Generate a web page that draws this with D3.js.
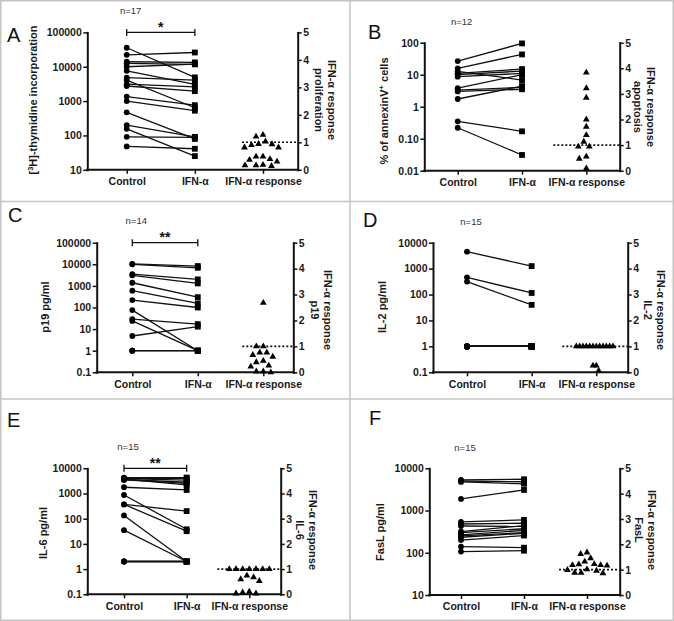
<!DOCTYPE html>
<html><head><meta charset="utf-8">
<script src="https://cdn.jsdelivr.net/npm/d3@7"></script>
<style>
html,body{margin:0;padding:0;background:#fff;}
svg{display:block;}
</style></head><body>
<svg id="chart" width="674" height="621"></svg>
<script>
// ---------------- DATA ----------------
const categories = ["Control", "IFN-α", "IFN-α response"];
const rightTicks = [0, 1, 2, 3, 4, 5];

// Panel A: [3H]-thymidine incorporation
const aTicks = [10, 100, 1000, 10000, 100000];
const aTickLabels = ["10", "100", "1000", "10000", "100000"];
const aControl = [35700, 22300, 14000, 12500, 10000, 7600, 4800, 4100, 3100, 2750, 1350, 1000, 470, 200, 156, 91, 48];
const aIFN     = [4900, 26000, 13400, 11700, 12000, 3050, 4100, 640, 2600, 1950, 760, 525, 79, 91, 25, 88, 41];
const aResp    = [1.27, 1.21, 0.94, 0.81, 0.81, 0.93, 1.03, 0.9, 0.36, 0.48, 0.48, 0.18, 0.16, 0.16, 0.30, 0.39, 0.14];

// Panel B: % of annexinV+ cells
const bTicks = [0.01, 0.1, 1, 10, 100];
const bTickLabels = ["0.01", "0.10", "1", "10", "100"];
const bControl = [26.7, 15.8, 12.7, 11, 10, 8.7, 3.8, 3.3, 3.0, 1.74, 0.35, 0.22];
const bIFN     = [95, 43, 6.8, 15, 13, 11, 10, 4.0, 3.5, 4.4, 0.17, 0.031];
const bResp    = [3.83, 3.22, 2.85, 2.0, 1.72, 1.39, 1.13, 0.94, 0.94, 0.55, 0.47, 0.09];

// Panel C: p19 pg/ml
const cTicks = [0.1, 1, 10, 100, 1000, 10000, 100000];
const cTickLabels = ["0.1", "1", "10", "100", "1000", "10000", "100000"];
const cControl = [10500, 10000, 3500, 3100, 1400, 600, 220, 76, 29, 24, 4.8, 1, 1, 1];
const cIFN     = [8300, 6900, 2000, 1300, 300, 155, 100, 1, 17, 1, 13, 1, 1, 1];
const cResp    = [2.68, 1.0, 1.0, 0.67, 0.76, 0.76, 0.60, 0.44, 0.39, 0.26, 0.22, 0.03, 0.0, 0.03];

// Panel D: IL-2 pg/ml
const dTicks = [0.1, 1, 10, 100, 1000, 10000];
const dTickLabels = ["0.1", "1", "10", "100", "1000", "10000"];
const dControl = [4500, 460, 315, 1, 1, 1, 1, 1, 1, 1, 1, 1, 1, 1, 1];
const dIFN     = [1250, 115, 40, 1, 1, 1, 1, 1, 1, 1, 1, 1, 1, 1, 1];
const dResp    = [0.26, 0.26, 0.06, 1, 1, 1, 1, 1, 1, 1, 1, 1, 1, 1, 1];

// Panel E: IL-6 pg/ml
const eTicks = [0.1, 1, 10, 100, 1000, 10000];
const eTickLabels = ["0.1", "1", "10", "100", "1000", "10000"];
const eControl = [4250, 4000, 3900, 3700, 3600, 3450, 1770, 870, 370, 370, 135, 35, 2, 2, 2];
const eIFN     = [4300, 4000, 3400, 2200, 2800, 2500, 1380, 38, 200, 32, 2, 2, 2, 2, 2];
const eResp    = [1, 1, 1, 1, 1, 1, 1, 0.74, 0.6, 0.53, 0.68, 0.07, 0.03, 0.03, 0.1];

// Panel F: FasL pg/ml
const fTicks = [10, 100, 1000, 10000];
const fTickLabels = ["10", "100", "1000", "10000"];
const fControl = [5300, 5000, 4750, 1880, 540, 480, 430, 315, 300, 264, 250, 233, 200, 140, 107];
const fIFN     = [5500, 4800, 4300, 3070, 600, 500, 420, 440, 370, 340, 300, 290, 256, 132, 112];
const fResp    = [1.45, 1.62, 1.68, 1.18, 1.16, 1.22, 1.21, 1.32, 1.18, 1.01, 0.99, 0.88, 0.86, 0.88, 0.96];

// ---------------- LAYOUT ----------------
const FONT = "'Liberation Sans', Arial, sans-serif";
const LETTER_FONT = "'Liberation Sans Narrow', 'Liberation Sans', Arial, sans-serif";

const panels = [
  {letter:"A", lx:7, ly:42, ctrl:aControl, ifn:aIFN, resp:aResp, ticks:aTicks, tickLabels:aTickLabels,
   yLabel:[["[",0],["3",1],["H]-thymidine incorporation",0]], rLabel:["IFN-α response","proliferation"],
   n:"n=17", sig:"*", L:87.3, R:297.7, T:32.4, B:169.8, padL:39.4, padR:34.7,
   ylx:33, yly:100, rx1:332, rx2:319, ry:100, refOff:-21},
  {letter:"B", lx:368, ly:39, ctrl:bControl, ifn:bIFN, resp:bResp, ticks:bTicks, tickLabels:bTickLabels,
   yLabel:[["% of annexinV",0],["+",1],[" cells",0]], rLabel:["IFN-α response","apoptosis"],
   n:"n=12", sig:null, L:424.3, R:619.7, T:42.7, B:170.7, padL:33.4, padR:33.4,
   ylx:384, yly:111, rx1:651, rx2:638, ry:107, refOff:-33},
  {letter:"C", lx:8, ly:222, ctrl:cControl, ifn:cIFN, resp:cResp, ticks:cTicks, tickLabels:cTickLabels,
   yLabel:[["p19 pg/ml",0]], rLabel:["IFN-α response","p19"],
   n:"n=14", sig:"**", L:96.7, R:293.3, T:242.7, B:372.3, padL:35.6, padR:30,
   ylx:45, yly:307, rx1:328, rx2:315, ry:310, refOff:-21},
  {letter:"D", lx:363, ly:227, ctrl:dControl, ifn:dIFN, resp:dResp, ticks:dTicks, tickLabels:dTickLabels,
   yLabel:[["IL-2 pg/ml",0]], rLabel:["IFN-α response","IL-2"],
   n:"n=15", sig:null, L:433, R:627.7, T:242.7, B:372.3, padL:34, padR:31.4,
   ylx:382, yly:307, rx1:661, rx2:648, ry:310, refOff:-34},
  {letter:"E", lx:7, ly:427, ctrl:eControl, ifn:eIFN, resp:eResp, ticks:eTicks, tickLabels:eTickLabels,
   yLabel:[["IL-6 pg/ml",0]], rLabel:["IFN-α response","IL-6"],
   n:"n=15", sig:"**", L:87.3, R:280.7, T:468.3, B:594.3, padL:36.7, padR:31.4,
   ylx:43, yly:533, rx1:313, rx2:300, ry:530, refOff:-32},
  {letter:"F", lx:369, ly:425, ctrl:fControl, ifn:fIFN, resp:fResp, ticks:fTicks, tickLabels:fTickLabels,
   yLabel:[["FasL pg/ml",0]], rLabel:["IFN-α response","FasL"],
   n:"n=15", sig:null, L:429.3, R:619.7, T:468.3, B:595, padL:31.7, padR:32.7,
   ylx:380, yly:532, rx1:652, rx2:639, ry:530, refOff:-28}
];

const svg = d3.select("#chart");

// frame / dividers
const frame = svg.append("g").attr("stroke", "#c4c4c4").attr("stroke-width", 1.5).attr("fill", "none");
frame.append("rect").attr("x", 0.75).attr("y", 0.75).attr("width", 672.5).attr("height", 619.5);
frame.append("line").attr("x1", 350).attr("x2", 350).attr("y1", 0).attr("y2", 621);
frame.append("line").attr("x1", 0).attr("x2", 674).attr("y1", 201.5).attr("y2", 201.5);
frame.append("line").attr("x1", 0).attr("x2", 674).attr("y1", 399).attr("y2", 399);

function styleAxis(sel) {
  sel.attr("font-family", null).attr("font-size", null);
  sel.select(".domain").attr("stroke-width", 2).attr("stroke", "#111").attr("stroke-linecap", "square");
  sel.selectAll(".tick line").attr("stroke-width", 1.5).attr("stroke", "#111");
  sel.selectAll(".tick text").attr("font-family", FONT).attr("font-weight", "bold")
     .attr("font-size", 10.5).attr("fill", "#1a1a1a");
}

function swarm(vals, yfun, D, maxW) {
  const idx = vals.map((v, i) => i).sort((a, b) => vals[b] - vals[a]);
  const placed = [];
  const off = new Array(vals.length).fill(0);
  for (const i of idx) {
    const yy = yfun(vals[i]);
    let chosen = 0;
    for (let k = 0; k < 400; k++) {
      const o = (k % 2 === 1 ? -1 : 1) * Math.ceil(k / 2) * 0.5;
      if (placed.every(q => (q.x - o) ** 2 + (q.y - yy) ** 2 >= D * D)) { chosen = o; break; }
    }
    placed.push({x: chosen, y: yy});
    off[i] = chosen;
  }
  const m = d3.max(off, Math.abs) || 0;
  const f = m > maxW ? maxW / m : 1;
  return off.map(o => o * f);
}

function drawPanel(p) {
  const g = svg.append("g");
  const y = d3.scaleLog().domain([p.ticks[0], p.ticks[p.ticks.length - 1]]).range([p.B, p.T]);
  const r = d3.scaleLinear().domain([0, 5]).range([p.B, p.T]);
  const x = d3.scalePoint().domain(categories).range([p.L + p.padL, p.R - p.padR]).padding(0);

  // panel letter
  g.append("text").attr("x", p.lx).attr("y", p.ly).text(p.letter)
    .attr("font-family", LETTER_FONT).attr("font-size", 20).attr("fill", "#111");

  // n= label
  g.append("text").attr("x", x(categories[0]) + 4).attr("y", p.T - (p.sig ? 18.5 : 17.5))
    .attr("text-anchor", "middle").attr("font-family", FONT).attr("font-size", 9.5)
    .attr("fill", "#333").text(p.n);

  // left axis
  g.append("g").attr("transform", `translate(${p.L},0)`)
    .call(d3.axisLeft(y).tickValues(p.ticks).tickFormat((d, i) => p.tickLabels[i])
      .tickSize(4).tickSizeOuter(0).tickPadding(1.5))
    .call(styleAxis);

  // right axis
  g.append("g").attr("transform", `translate(${p.R},0)`)
    .call(d3.axisRight(r).tickValues(rightTicks).tickFormat(d3.format("d"))
      .tickSize(4).tickSizeOuter(0).tickPadding(1.5))
    .call(styleAxis);

  // bottom axis
  const xa = g.append("g").attr("transform", `translate(0,${p.B})`)
    .call(d3.axisBottom(x).tickSize(4).tickSizeOuter(0).tickPadding(4))
    .call(styleAxis);
  xa.select(".domain").remove();
  g.append("line").attr("x1", p.L).attr("x2", p.R).attr("y1", p.B).attr("y2", p.B)
    .attr("stroke", "#111").attr("stroke-width", 2).attr("stroke-linecap", "square");

  // left y label
  const yl = g.append("text")
    .attr("transform", `translate(${p.ylx},${p.yly}) rotate(-90)`)
    .attr("text-anchor", "middle").attr("dy", "0.35em")
    .attr("font-family", FONT).attr("font-weight", "bold").attr("font-size", 11).attr("fill", "#1a1a1a");
  p.yLabel.forEach(([t, sup]) => {
    const ts = yl.append("tspan").text(t);
    if (sup) ts.attr("font-size", 7.5).attr("baseline-shift", "super");
  });

  // right label (two lines, reading top-to-bottom)
  [[p.rLabel[0], p.rx1], [p.rLabel[1], p.rx2]].forEach(([t, xx]) => {
    g.append("text").attr("transform", `translate(${xx},${p.ry}) rotate(90)`)
      .attr("text-anchor", "middle").attr("dy", "0.35em")
      .attr("font-family", FONT).attr("font-weight", "bold").attr("font-size", 11)
      .attr("fill", "#1a1a1a").text(t);
  });

  const xc = x(categories[0]), xi = x(categories[1]), xr = x(categories[2]);

  // significance bracket
  if (p.sig) {
    const by = p.T;
    g.append("path")
      .attr("d", `M${xc},${by - 3.5}V${by + 3.5}M${xc},${by}H${xi}M${xi},${by - 3.5}V${by + 3.5}`)
      .attr("stroke", "#111").attr("stroke-width", 1.3).attr("fill", "none");
    g.append("text").attr("x", (xc + xi) / 2).attr("y", by - 0.5).attr("text-anchor", "middle")
      .attr("font-family", FONT).attr("font-weight", "bold").attr("font-size", 14)
      .attr("fill", "#111").text(p.sig);
  }

  // paired lines
  g.append("g").selectAll("line").data(p.ctrl).join("line")
    .attr("x1", xc).attr("y1", d => y(d))
    .attr("x2", xi).attr("y2", (d, i) => y(p.ifn[i]))
    .attr("stroke", "#111").attr("stroke-width", 1.3);

  // control circles
  g.append("g").selectAll("circle").data(p.ctrl).join("circle")
    .attr("cx", xc).attr("cy", d => y(d)).attr("r", 2.9).attr("fill", "#000");

  // IFN squares
  const s = 5.8;
  g.append("g").selectAll("rect").data(p.ifn).join("rect")
    .attr("x", xi - s / 2).attr("y", d => y(d) - s / 2).attr("width", s).attr("height", s)
    .attr("fill", "#000");

  // dotted reference line at 1
  g.append("line").attr("x1", xr + p.refOff).attr("x2", p.R)
    .attr("y1", r(1)).attr("y2", r(1))
    .attr("stroke", "#111").attr("stroke-width", 1.6).attr("stroke-dasharray", "2,2");

  // response triangles (beeswarm)
  const offs = swarm(p.resp, r, 7, 20);
  const tri = d3.symbol().type(d3.symbolTriangle).size(20);
  g.append("g").selectAll("path").data(p.resp).join("path")
    .attr("d", tri)
    .attr("transform", (d, i) => `translate(${xr + offs[i]},${r(d)})`)
    .attr("fill", "#000");
}

panels.forEach(drawPanel);
</script></body></html>
